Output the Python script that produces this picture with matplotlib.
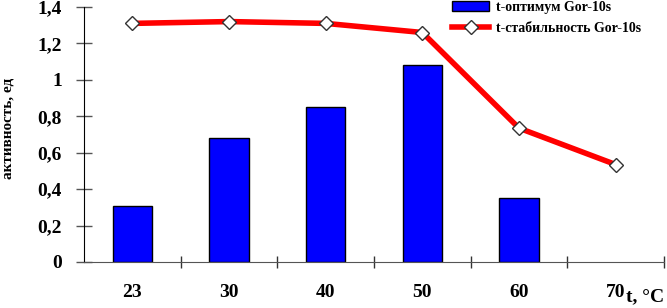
import matplotlib
matplotlib.use("Agg")
import matplotlib.pyplot as plt
import numpy as np

categories = ["23", "30", "40", "50", "60", "70"]
optimum = [0.31, 0.68, 0.85, 1.08, 0.35, np.nan]
stability = [1.31, 1.32, 1.31, 1.26, 0.735, 0.535]
yticks = [0, 0.2, 0.4, 0.6, 0.8, 1.0, 1.2, 1.4]
ytick_labels = ["0", "0,2", "0,4", "0,6", "0,8", "1", "1,2", "1,4"]

plt.rcParams['font.family'] = ['Liberation Serif', 'DejaVu Serif']
plt.rcParams['font.weight'] = 'bold'

fig = plt.figure(figsize=(6.67, 3.08), dpi=100)
ax = fig.add_axes([84/667, 1 - 262/308, (664 - 84)/667, (262 - 7)/308])

x = np.arange(len(categories))
bars = ax.bar(x, optimum, width=0.41, color='#0000FF', edgecolor='black', linewidth=1.0,
              label='t-оптимум Gor-10s', zorder=2)
line, = ax.plot(x, stability, color='#FF0000', linewidth=4, marker='D', markersize=7,
                markerfacecolor='white', markeredgecolor='#333333', markeredgewidth=1.0,
                label='t-стабильность Gor-10s', zorder=3)

ax.set_xlim(-0.5, len(categories) - 0.5)
ax.set_ylim(0, 1.4)
ax.set_yticks(yticks)
ax.set_yticklabels(ytick_labels)
ax.set_xticks(x)
ax.set_xticklabels(categories)
ax.tick_params(axis='x', length=0, pad=16, labelsize=14)
ax.set_xticks(np.arange(len(categories)) + 0.5, minor=True)
ax.tick_params(axis='x', which='minor', direction='inout', length=9, width=1, color='#333333')
ax.tick_params(axis='y', direction='inout', length=12, width=1, color='#555555', labelsize=14, pad=10)

for s in ['top', 'right']:
    ax.spines[s].set_visible(False)
ax.spines['left'].set_color('black')
ax.spines['bottom'].set_color('#555555')

fig.text(8/667, 1 - 128/308, 'активность, ед', rotation=90, ha='center', va='center',
         fontsize=11, fontweight='bold')
fig.text(645/667, 1 - 297/308, 't, °C', ha='center', va='center', fontsize=14, fontweight='bold')

leg = fig.legend(handles=[bars, line], loc='upper left', bbox_to_anchor=(452/667, 1 - 1/308),
                 frameon=False, handlelength=2.7, labelspacing=0.6,
                 handletextpad=0.5, borderaxespad=0, borderpad=0,
                 prop={'family': ['Liberation Serif'], 'weight': 'bold', 'size': 10})

fig.savefig('out.png', dpi=100)
